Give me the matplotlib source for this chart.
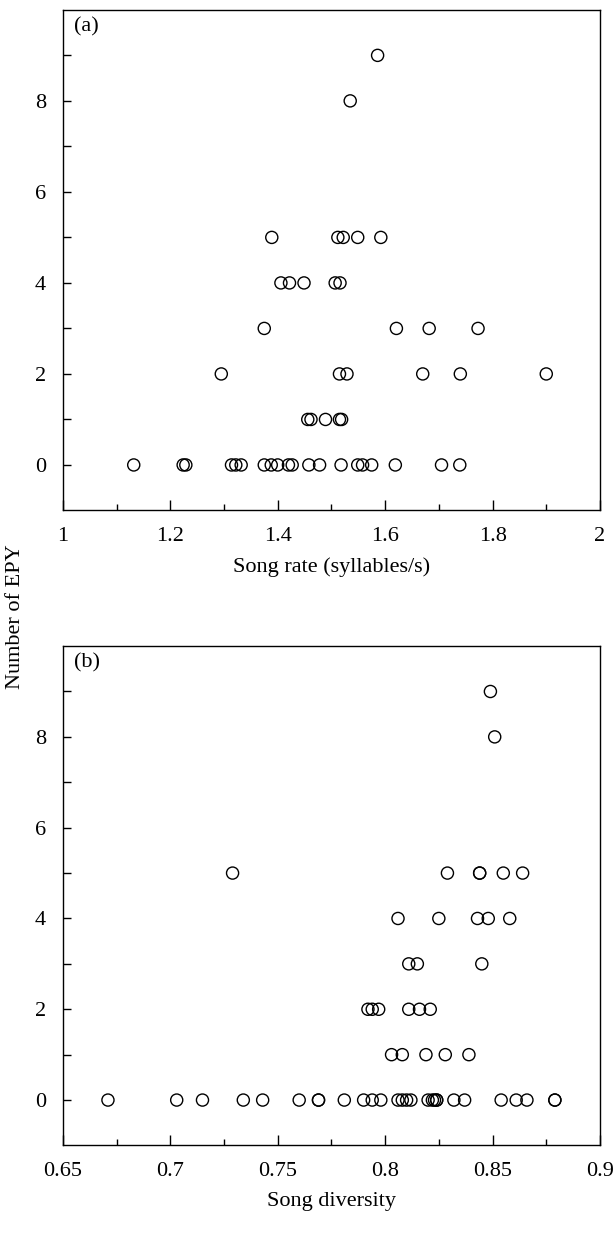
import matplotlib
matplotlib.use("Agg")
import matplotlib.pyplot as plt
from matplotlib.ticker import MultipleLocator

plt.rcParams['font.family'] = ['Liberation Serif', 'DejaVu Serif']

# Panel (a): song rate (syllables/s) vs number of EPY
rate_epy0 = [1.132, 1.224, 1.229, 1.314, 1.322, 1.332, 1.375, 1.388, 1.400,
             1.420, 1.427, 1.458, 1.478, 1.518, 1.549, 1.558, 1.575, 1.619,
             1.705, 1.739]
rate_epy1 = [1.456, 1.462, 1.489, 1.515, 1.519]
rate_epy2 = [1.295, 1.515, 1.529, 1.670, 1.740, 1.900]
rate_epy3 = [1.375, 1.621, 1.682, 1.773]
rate_epy4 = [1.406, 1.422, 1.449, 1.507, 1.516]
rate_epy5 = [1.389, 1.512, 1.522, 1.549, 1.592]
rate_epy8 = [1.535]
rate_epy9 = [1.586]

# Panel (b): song diversity vs number of EPY
div_epy0 = [0.671, 0.703, 0.715, 0.734, 0.743, 0.760, 0.769, 0.769, 0.781,
            0.790, 0.794, 0.798, 0.806, 0.808, 0.810, 0.812, 0.820, 0.822,
            0.823, 0.824, 0.824, 0.832, 0.837, 0.854, 0.861, 0.866, 0.879,
            0.879]
div_epy1 = [0.803, 0.808, 0.819, 0.828, 0.839]
div_epy2 = [0.792, 0.794, 0.797, 0.811, 0.816, 0.821]
div_epy3 = [0.811, 0.815, 0.845]
div_epy4 = [0.806, 0.825, 0.843, 0.848, 0.858]
div_epy5 = [0.729, 0.829, 0.844, 0.844, 0.855, 0.864]
div_epy8 = [0.851]
div_epy9 = [0.849]

rate_groups = {0: rate_epy0, 1: rate_epy1, 2: rate_epy2, 3: rate_epy3,
               4: rate_epy4, 5: rate_epy5, 8: rate_epy8, 9: rate_epy9}
div_groups = {0: div_epy0, 1: div_epy1, 2: div_epy2, 3: div_epy3,
              4: div_epy4, 5: div_epy5, 8: div_epy8, 9: div_epy9}

fig = plt.figure(figsize=(6.16, 12.33), dpi=100)
ax_a = fig.add_axes([0.102, 0.586, 0.872, 0.406])
ax_b = fig.add_axes([0.102, 0.071, 0.872, 0.405])

FS = 16


def draw(ax, groups, xlim, xmajor, xminor, xlabel, tag, fmt):
    for epy, xs in groups.items():
        ax.scatter(xs, [epy] * len(xs), s=76, facecolors='none',
                   edgecolors='black', linewidths=1.0, zorder=3)
    ax.set_xlim(*xlim)
    ax.set_ylim(-1, 10)
    ax.xaxis.set_major_locator(MultipleLocator(xmajor))
    ax.xaxis.set_minor_locator(MultipleLocator(xminor))
    ax.set_yticks([0, 1, 2, 3, 4, 5, 6, 7, 8, 9])
    ax.set_yticklabels(['0', '', '2', '', '4', '', '6', '', '8', ''])
    ax.xaxis.set_major_formatter(matplotlib.ticker.FuncFormatter(fmt))
    ax.tick_params(axis='x', which='major', direction='in', length=7,
                   width=1.0, labelsize=FS, pad=12)
    ax.tick_params(axis='x', which='minor', direction='in', length=4,
                   width=1.0)
    ax.tick_params(axis='y', which='major', direction='in', length=6,
                   width=1.0, labelsize=FS, pad=12)
    for sp in ax.spines.values():
        sp.set_linewidth(1.0)
    ax.set_xlabel(xlabel, fontsize=FS, labelpad=8)
    ax.text(0.02, 0.985, tag, transform=ax.transAxes, fontsize=FS,
            va='top', ha='left')


def fmt_a(v, pos):
    s = f"{v:.1f}"
    return s[:-2] if s.endswith('.0') else s


def fmt_b(v, pos):
    s = f"{v:.2f}".rstrip('0')
    return s


draw(ax_a, rate_groups, (1, 2), 0.2, 0.1, 'Song rate (syllables/s)', '(a)', fmt_a)
draw(ax_b, div_groups, (0.65, 0.9), 0.05, 0.025, 'Song diversity', '(b)', fmt_b)

fig.text(0.025, 0.5, 'Number of EPY', rotation=90, fontsize=FS,
         va='center', ha='center')

fig.savefig('out.png', dpi=100)
